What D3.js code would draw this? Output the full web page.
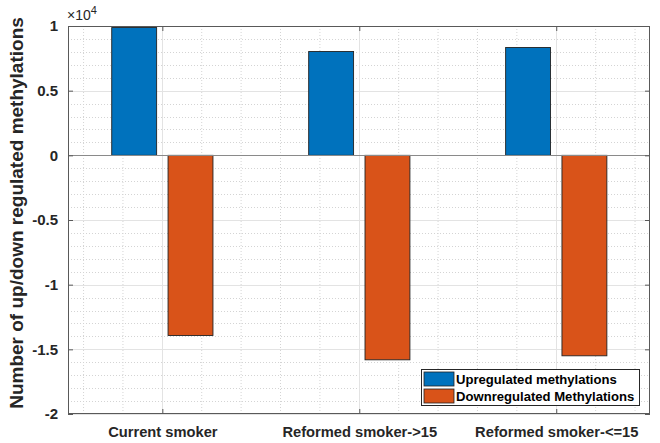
<!DOCTYPE html>
<html>
<head>
<meta charset="utf-8">
<script src="https://cdn.jsdelivr.net/npm/d3@7"></script>
<style>
  html, body { margin: 0; padding: 0; background: #fff; }
  svg { display: block; font-family: "Liberation Sans", Arial, sans-serif; }
</style>
</head>
<body>
<svg id="chart" width="660" height="443"></svg>
<script>
// Smoking groups and methylation counts per group
const categories = ["Current smoker", "Reformed smoker->15", "Reformed smoker-<=15"];
const upregulated = [9880, 8030, 8340];
const downregulated = [-13930, -15810, -15500];
const seriesNames = ["Upregulated methylations", "Downregulated Methylations"];
const seriesColors = ["#0072BD", "#D95319"];
const yTicks = [1, 0.5, 0, -0.5, -1, -1.5, -2];
const yTickLabels = ["1", "0.5", "0", "-0.5", "-1", "-1.5", "-2"];
const yExponent = 4;

const svg = d3.select("#chart");
const plot = { left: 68, right: 650, top: 26, bottom: 414 };

// category positions 1..n on a numeric axis, as in a grouped bar plot
const x = d3.scaleLinear().domain([0.521, 3.476]).range([plot.left, plot.right]);
const y = d3.scaleLinear().domain([-2, 1]).range([plot.bottom, plot.top]);
const scaleFactor = Math.pow(10, yExponent);

const groupOffset = 0.143;
const barWidth = 0.228;

// plot background
svg.append("rect")
  .attr("x", plot.left).attr("y", plot.top)
  .attr("width", plot.right - plot.left).attr("height", plot.bottom - plot.top)
  .attr("fill", "#fff");

const grid = svg.append("g");
// minor grid (dotted)
const xMinor = d3.range(0.6, 3.45, 0.2).filter(v => Math.abs(v - Math.round(v)) > 1e-6);
const yMinor = d3.range(-1.9, 1.0, 0.1).filter(v => Math.abs(v * 2 - Math.round(v * 2)) > 1e-6);
grid.selectAll(".xminor").data(xMinor).join("line")
  .attr("x1", d => x(d)).attr("x2", d => x(d))
  .attr("y1", plot.top).attr("y2", plot.bottom)
  .attr("stroke", "#d4d4d4").attr("stroke-width", 1).attr("stroke-dasharray", "1,2");
grid.selectAll(".yminor").data(yMinor).join("line")
  .attr("x1", plot.left).attr("x2", plot.right)
  .attr("y1", d => Math.round(y(d)) + 0.5).attr("y2", d => Math.round(y(d)) + 0.5)
  .attr("stroke", "#d4d4d4").attr("stroke-width", 1).attr("stroke-dasharray", "1,2");
// major grid (solid)
grid.selectAll(".xmajor").data([1, 2, 3]).join("line")
  .attr("x1", d => Math.round(x(d)) + 0.5).attr("x2", d => Math.round(x(d)) + 0.5)
  .attr("y1", plot.top).attr("y2", plot.bottom)
  .attr("stroke", "#e3e3e3").attr("stroke-width", 1);
grid.selectAll(".ymajor").data(yTicks).join("line")
  .attr("x1", plot.left).attr("x2", plot.right)
  .attr("y1", d => Math.round(y(d)) + 0.5).attr("y2", d => Math.round(y(d)) + 0.5)
  .attr("stroke", "#e3e3e3").attr("stroke-width", 1);

// bars
const bars = svg.append("g");
const series = [upregulated, downregulated];
series.forEach((vals, si) => {
  const off = si === 0 ? -groupOffset : groupOffset;
  bars.selectAll(".s" + si).data(vals).join("rect")
    .attr("x", (d, i) => x(i + 1 + off - barWidth / 2))
    .attr("width", x(barWidth) - x(0))
    .attr("y", d => y(Math.max(0, d / scaleFactor)))
    .attr("height", d => Math.abs(y(d / scaleFactor) - y(0)))
    .attr("fill", seriesColors[si])
    .attr("stroke", "#222")
    .attr("stroke-width", 0.9);
});

// baseline at zero
svg.append("line")
  .attr("x1", plot.left).attr("x2", plot.right)
  .attr("y1", Math.round(y(0)) + 0.5).attr("y2", Math.round(y(0)) + 0.5)
  .attr("stroke", "#8a8a8a").attr("stroke-width", 1);

// axes box
const axisColor = "#595959";
svg.append("rect")
  .attr("x", plot.left + 0.5).attr("y", plot.top + 0.5)
  .attr("width", plot.right - plot.left - 1).attr("height", plot.bottom - plot.top - 1)
  .attr("fill", "none").attr("stroke", axisColor).attr("stroke-width", 1);

// y axis with inward ticks
const yAxis = d3.axisLeft(y)
  .tickValues(yTicks)
  .tickFormat((d, i) => yTickLabels[i])
  .tickSizeInner(-5).tickSizeOuter(0).tickPadding(10);
const yg = svg.append("g").attr("transform", `translate(${plot.left},0)`).call(yAxis);
yg.select(".domain").remove();
yg.selectAll("line").attr("stroke", axisColor);
yg.selectAll("text")
  .attr("font-size", "15px").attr("font-weight", "bold").attr("fill", "#262626");

// right-side tick marks
const yr = d3.axisRight(y).tickValues(yTicks).tickFormat("").tickSizeInner(-5).tickSizeOuter(0);
const yrg = svg.append("g").attr("transform", `translate(${plot.right},0)`).call(yr);
yrg.select(".domain").remove();
yrg.selectAll("line").attr("stroke", axisColor);

// x axis with category labels
const xAxis = d3.axisBottom(x)
  .tickValues([1, 2, 3])
  .tickFormat((d, i) => categories[i])
  .tickSizeInner(-5).tickSizeOuter(0).tickPadding(13);
const xg = svg.append("g").attr("transform", `translate(0,${plot.bottom})`).call(xAxis);
xg.select(".domain").remove();
xg.selectAll("line").attr("stroke", axisColor);
xg.selectAll("text")
  .attr("font-size", "14.7px").attr("font-weight", "bold").attr("fill", "#262626");

const xt = d3.axisTop(x).tickValues([1, 2, 3]).tickFormat("").tickSizeInner(-5).tickSizeOuter(0);
const xtg = svg.append("g").attr("transform", `translate(0,${plot.top})`).call(xt);
xtg.select(".domain").remove();
xtg.selectAll("line").attr("stroke", axisColor);

// exponent label
const expText = svg.append("text")
  .attr("x", plot.left - 1).attr("y", plot.top - 6)
  .attr("font-size", "14px").attr("fill", "#262626");
expText.append("tspan").text("\u00d710");
expText.append("tspan").attr("dy", -6).attr("font-size", "11px").text(yExponent);

// y axis title
svg.append("text")
  .attr("transform", `translate(23,${(plot.top + plot.bottom) / 2 - 7}) rotate(-90)`)
  .attr("text-anchor", "middle")
  .attr("font-size", "19px").attr("font-weight", "bold").attr("fill", "#262626")
  .text("Number of up/down regulated methylations");

// legend
const legend = svg.append("g").attr("transform", "translate(421,369)");
legend.append("rect")
  .attr("x", 0.5).attr("y", 0.5).attr("width", 218).attr("height", 36)
  .attr("fill", "#fff").attr("stroke", "#262626").attr("stroke-width", 1);
seriesNames.forEach((name, i) => {
  legend.append("rect")
    .attr("x", 3).attr("y", 3 + i * 17).attr("width", 30).attr("height", 14)
    .attr("fill", seriesColors[i]).attr("stroke", "#222").attr("stroke-width", 0.8);
  legend.append("text")
    .attr("x", 35).attr("y", 15 + i * 17)
    .attr("font-size", "13.1px").attr("font-weight", "bold").attr("fill", "#000")
    .text(name);
});
</script>
</body>
</html>
